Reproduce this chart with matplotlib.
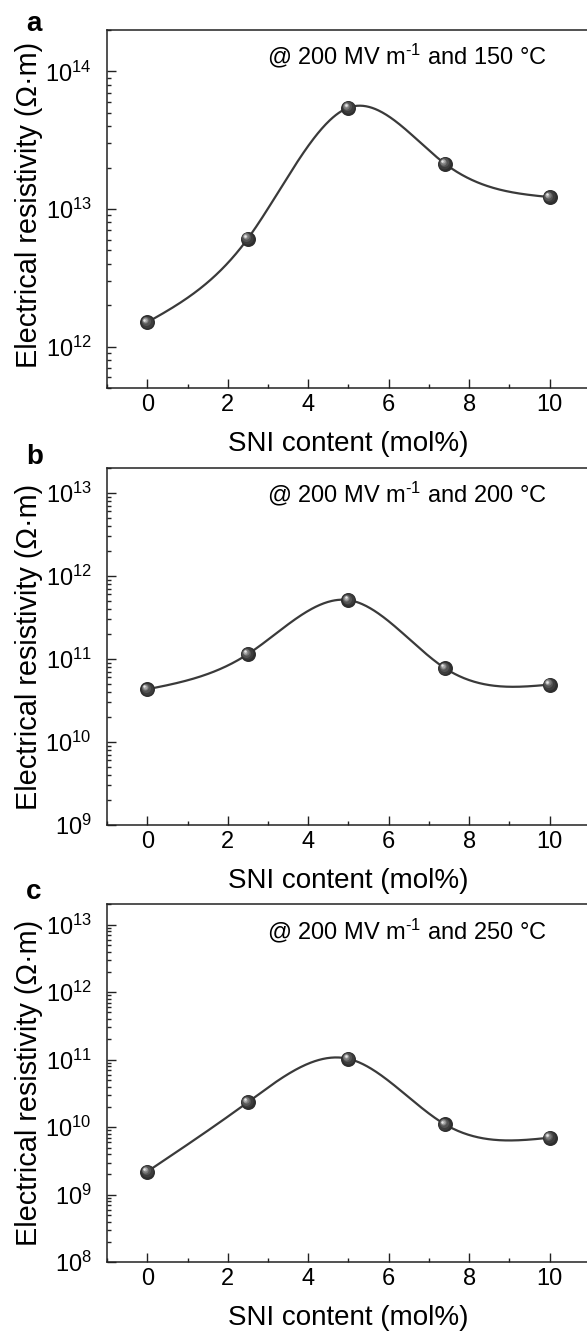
import numpy as np
import matplotlib
matplotlib.use("Agg")
import matplotlib.pyplot as plt
import matplotlib.transforms as mtransforms
from matplotlib.ticker import LogLocator, MultipleLocator, NullFormatter, LogFormatterSciNotation

plt.rcParams['font.family'] = ['Liberation Sans', 'DejaVu Sans']
plt.rcParams['mathtext.fontset'] = 'custom'
plt.rcParams['mathtext.rm'] = 'Liberation Sans'
plt.rcParams['mathtext.it'] = 'Liberation Sans:italic'
plt.rcParams['mathtext.bf'] = 'Liberation Sans:bold'

# ---------------- data ----------------
sni_content = [0, 2.5, 5, 7.4, 10]
resist_150C = [1.5e12, 6.1e12, 5.45e13, 2.13e13, 1.22e13]
resist_200C = [4.3e10, 1.14e11, 5.1e11, 7.7e10, 4.9e10]
resist_250C = [2.2e9, 2.35e10, 1.03e11, 1.1e10, 7.0e9]
panel_letters = ['a', 'b', 'c']
panel_notes = ['@ 200 MV m$^{\\mathregular{\u20101}}$ and 150 °C',
               '@ 200 MV m$^{\\mathregular{\u20101}}$ and 200 °C',
               '@ 200 MV m$^{\\mathregular{\u20101}}$ and 250 °C']
ylims = [(5e11, 2e14), (1e9, 2e13), (1e8, 2e13)]
xticks = [0, 2, 4, 6, 8, 10]
xlabel = 'SNI content (mol%)'
ylabel = 'Electrical resistivity (Ω·m)'


def natural_spline(x, y, xs):
    x = np.asarray(x, float)
    y = np.asarray(y, float)
    n = len(x)
    h = np.diff(x)
    A = np.zeros((n - 2, n - 2))
    r = np.zeros(n - 2)
    for i in range(n - 2):
        A[i, i] = 2 * (h[i] + h[i + 1])
        if i + 1 < n - 2:
            A[i, i + 1] = h[i + 1]
            A[i + 1, i] = h[i + 1]
        r[i] = 6 * ((y[i + 2] - y[i + 1]) / h[i + 1] - (y[i + 1] - y[i]) / h[i])
    M = np.zeros(n)
    M[1:-1] = np.linalg.solve(A, r)
    out = np.empty_like(xs)
    for k, xv in enumerate(xs):
        i = min(max(np.searchsorted(x, xv) - 1, 0), n - 2)
        t0 = x[i + 1] - xv
        t1 = xv - x[i]
        out[k] = (M[i] * t0 ** 3 / (6 * h[i]) + M[i + 1] * t1 ** 3 / (6 * h[i])
                  + (y[i] / h[i] - M[i] * h[i] / 6) * t0
                  + (y[i + 1] / h[i] - M[i + 1] * h[i] / 6) * t1)
    return out


W, H = 587, 1331
fig = plt.figure(figsize=(W / 100, H / 100), dpi=100)

# axes boxes in pixels: (left, right, top, bottom)
boxes = [(107, 590, 30, 388), (107, 590, 467.7, 825), (107, 590, 904.3, 1262.3)]
letter_pos = [(33.5, 24), (35, 457), (34, 892)]
ylabel_center = [(29, 205), (29, 647), (29, 1083)]

series = [resist_150C, resist_200C, resist_250C]

for k in range(3):
    l, rgt, t, b = boxes[k]
    ax = fig.add_axes([l / W, 1 - b / H, (rgt - l) / W, (b - t) / H])
    ax.set_yscale('log')
    ax.set_xlim(-1, 11)
    ax.set_ylim(*ylims[k])

    xs = np.linspace(sni_content[0], sni_content[-1], 400)
    ys = 10 ** natural_spline(sni_content, np.log10(series[k]), xs)
    ax.plot(xs, ys, color='#3a3a3a', lw=1.6, zorder=2)

    # shaded ball markers
    d = 10.8  # marker diameter in points
    layers = [(1.00, '#2e2e2e', 0.00),
              (0.80, '#3d3d3d', 0.05),
              (0.60, '#555555', 0.10),
              (0.42, '#7a7a7a', 0.14),
              (0.28, '#a8a8a8', 0.17),
              (0.16, '#e6e6e6', 0.19)]
    for frac, col, off in layers:
        tr = ax.transData + mtransforms.ScaledTranslation(-off * d / 72, off * d / 72,
                                                          fig.dpi_scale_trans)
        ax.plot(sni_content, series[k], linestyle='none', marker='o',
                markersize=d * frac, color=col, markeredgewidth=0,
                transform=tr, zorder=3, clip_on=False)

    ax.set_xticks(xticks)
    ax.xaxis.set_minor_locator(MultipleLocator(1))
    ax.yaxis.set_major_locator(LogLocator(base=10, numticks=20))
    ax.yaxis.set_major_formatter(LogFormatterSciNotation())
    ax.yaxis.set_minor_locator(LogLocator(base=10, subs=np.arange(2, 10), numticks=20))
    ax.yaxis.set_minor_formatter(NullFormatter())

    ax.tick_params(which='both', direction='in', top=False, right=False,
                   width=1.0, colors='#222222', labelcolor='black')
    ax.tick_params(which='major', length=6.5)
    ax.tick_params(which='minor', length=3.2)
    ax.tick_params(axis='x', which='major', labelsize=17, pad=4)
    ax.tick_params(axis='y', which='major', labelsize=17, pad=11)
    for side in ['left', 'bottom', 'top']:
        ax.spines[side].set_linewidth(1.1)
        ax.spines[side].set_color('#222222')
    ax.spines['right'].set_visible(False)

    ax.set_xlabel(xlabel, fontsize=20, labelpad=11)

    ax.text(0.331, 0.927, panel_notes[k], transform=ax.transAxes,
            ha='left', va='center', fontsize=17)

    lx, ly = letter_pos[k]
    fig.text(lx / W, 1 - ly / H, panel_letters[k], fontsize=20, fontweight='bold',
             ha='center', va='center')
    cx, cy = ylabel_center[k]
    fig.text(cx / W, 1 - cy / H, ylabel, rotation=90, fontsize=20.8,
             ha='center', va='center')

fig.savefig('out.png', dpi=100)
